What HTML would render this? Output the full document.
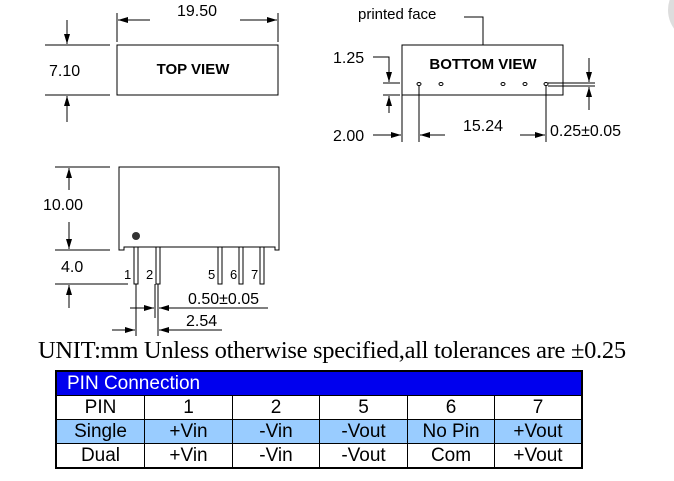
<!DOCTYPE html>
<html><head><meta charset="utf-8"><style>
body{margin:0;background:#fff;width:674px;height:481px;overflow:hidden;position:relative}
svg{position:absolute;left:0;top:0}
text{font-family:"Liberation Sans",sans-serif;fill:#000}
.t{position:absolute;font-family:"Liberation Serif",serif;font-size:24.5px;left:38px;top:337px;white-space:nowrap;letter-spacing:-0.3px;line-height:28px}
table{position:absolute;left:55px;top:370px;border-collapse:collapse;font-family:"Liberation Sans",sans-serif;font-size:19px;border:2px solid #000}
td{border:1px solid #000;text-align:center;height:23px;padding:0;line-height:22px}
.h td{background:#0000ee;color:#fff;text-align:left;padding-left:10px;height:23px}
.s td{background:#99ccff}
</style></head><body>
<svg width="674" height="481" viewBox="0 0 674 481">
<defs><marker id="a" markerWidth="10" markerHeight="6" refX="10" refY="3" orient="auto" markerUnits="userSpaceOnUse"><path d="M0,0L10,3L0,6z" fill="#000"/></marker></defs>
<circle cx="700" cy="10" r="32" fill="#ddd"/>
<g stroke="#000" stroke-width="1" fill="none">
<rect x="117" y="45" width="161" height="50"/>
<line x1="117" y1="13" x2="117" y2="42"/><line x1="278" y1="13" x2="278" y2="42"/>
<line x1="150" y1="20" x2="118" y2="20" marker-end="url(#a)"/><line x1="240" y1="20" x2="277" y2="20" marker-end="url(#a)"/>
<line x1="45" y1="45" x2="110" y2="45"/><line x1="45" y1="95" x2="110" y2="95"/>
<line x1="67" y1="20" x2="67" y2="44" marker-end="url(#a)"/><line x1="67" y1="122" x2="67" y2="96" marker-end="url(#a)"/>
<rect x="402" y="45" width="161" height="50"/>
<polyline points="464,17 483,17 483,45"/>
<polyline points="373,57 389,57 389,82" marker-end="url(#a)"/>
<line x1="383" y1="83" x2="400" y2="83"/><line x1="383" y1="95" x2="400" y2="95"/>
<line x1="389" y1="113" x2="389" y2="96" marker-end="url(#a)"/>
<line x1="373" y1="135" x2="401" y2="135" marker-end="url(#a)"/>
<line x1="402" y1="95" x2="402" y2="142"/><line x1="419" y1="84" x2="419" y2="142"/><line x1="546" y1="84" x2="546" y2="142"/>
<line x1="445" y1="135" x2="420" y2="135" marker-end="url(#a)"/><line x1="520" y1="135" x2="545" y2="135" marker-end="url(#a)"/>
<line x1="548" y1="83" x2="595" y2="83"/><line x1="548" y1="86" x2="595" y2="86"/>
<line x1="589" y1="58" x2="589" y2="82" marker-end="url(#a)"/><line x1="589" y1="110" x2="589" y2="87" marker-end="url(#a)"/>
<g fill="#fff"><ellipse cx="419" cy="84" rx="2" ry="1.5"/><ellipse cx="441" cy="84" rx="2" ry="1.5"/><ellipse cx="503" cy="84" rx="2" ry="1.5"/><ellipse cx="525" cy="84" rx="2" ry="1.5"/><ellipse cx="546" cy="84" rx="2" ry="1.5"/></g>
<path d="M119,250 L119,167 L279,167 L279,250 L275,250 L275,247 L124,247 L124,250 Z"/>
<g fill="#fff"><rect x="134" y="247" width="4" height="37"/><rect x="156" y="247" width="4" height="37"/><rect x="218" y="247" width="4" height="37"/><rect x="239" y="247" width="4" height="37"/><rect x="260" y="247" width="4" height="37"/></g>
<line x1="55" y1="167" x2="110" y2="167"/><line x1="55" y1="250" x2="110" y2="250"/>
<line x1="69" y1="190" x2="69" y2="168" marker-end="url(#a)"/><line x1="69" y1="222" x2="69" y2="249" marker-end="url(#a)"/>
<line x1="55" y1="284" x2="128" y2="284"/>
<line x1="69" y1="308" x2="69" y2="285" marker-end="url(#a)"/>
<line x1="136" y1="284" x2="136" y2="336"/><line x1="155" y1="284" x2="155" y2="318"/><line x1="158" y1="284" x2="158" y2="336"/>
<line x1="130" y1="308" x2="154" y2="308" marker-end="url(#a)"/><line x1="268" y1="308" x2="159" y2="308" marker-end="url(#a)"/>
<line x1="112" y1="330" x2="135" y2="330" marker-end="url(#a)"/><line x1="222" y1="330" x2="159" y2="330" marker-end="url(#a)"/>
</g>
<circle cx="136" cy="236" r="4" fill="#333"/>
<g font-size="16">
<text x="197" y="16" text-anchor="middle">19.50</text>
<text x="49" y="76">7.10</text>
<text x="358" y="19" font-size="15">printed face</text>
<text x="333" y="63">1.25</text>
<text x="333" y="141">2.00</text>
<text x="483" y="131" text-anchor="middle">15.24</text>
<text x="550" y="136">0.25±0.05</text>
<text x="43" y="210">10.00</text>
<text x="61" y="272">4.0</text>
<text x="188" y="304">0.50±0.05</text>
<text x="186" y="326">2.54</text>
</g>
<g font-size="13"><text x="124" y="279">1</text><text x="146" y="279">2</text><text x="208" y="279">5</text><text x="230" y="279">6</text><text x="251" y="279">7</text></g>
<text x="193" y="74" font-size="15" font-weight="bold" text-anchor="middle">TOP VIEW</text>
<text x="483" y="69" font-size="15" font-weight="bold" text-anchor="middle">BOTTOM VIEW</text>
</svg>
<div class="t">UNIT:mm Unless otherwise specified,all tolerances are ±0.25</div>
<table>
<tr class="h"><td colspan="6">PIN Connection</td></tr>
<tr><td style="width:87px">PIN</td><td style="width:87px">1</td><td style="width:86px">2</td><td style="width:87px">5</td><td style="width:86px">6</td><td style="width:86px">7</td></tr>
<tr class="s"><td>Single</td><td>+Vin</td><td>-Vin</td><td>-Vout</td><td>No Pin</td><td>+Vout</td></tr>
<tr><td>Dual</td><td>+Vin</td><td>-Vin</td><td>-Vout</td><td>Com</td><td>+Vout</td></tr>
</table>
</body></html>
